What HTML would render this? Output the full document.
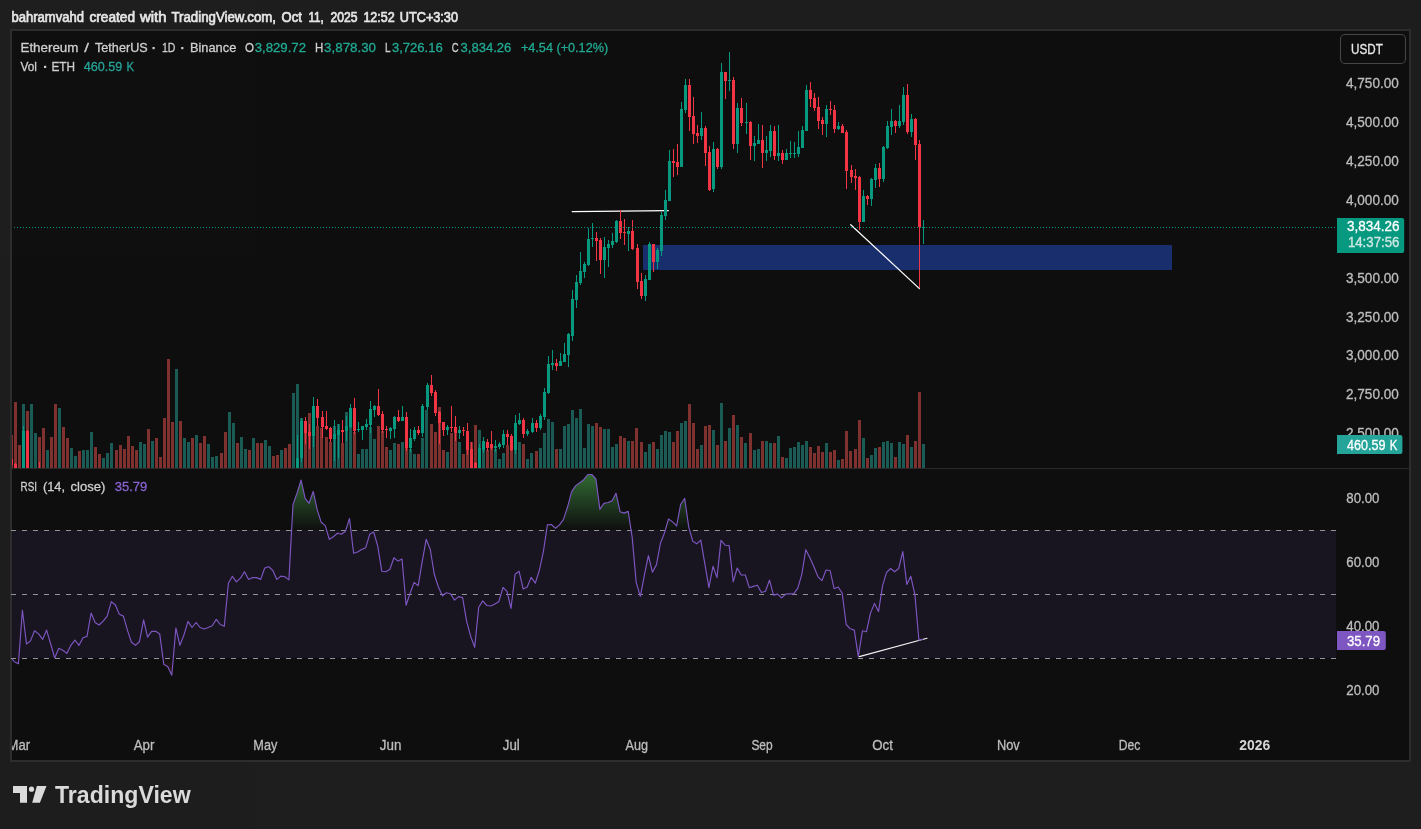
<!DOCTYPE html>
<html><head><meta charset="utf-8"><title>ETHUSDT chart</title>
<style>html,body{margin:0;padding:0;background:#1e1e1e;width:1421px;height:829px;overflow:hidden;font-family:"Liberation Sans",sans-serif}</style>
</head><body>
<svg width="1421" height="829" viewBox="0 0 1421 829" style="position:absolute;left:0;top:0;will-change:transform;opacity:0.999">
<defs>
<clipPath id="cm"><rect x="12" y="31" width="1324" height="437"/></clipPath>
<clipPath id="cr"><rect x="12" y="469" width="1324" height="260"/></clipPath>
<linearGradient id="gg" gradientUnits="userSpaceOnUse" x1="0" y1="470" x2="0" y2="530.5"><stop offset="0" stop-color="#4caf50" stop-opacity="0.62"/><stop offset="1" stop-color="#4caf50" stop-opacity="0.0"/></linearGradient>
<linearGradient id="gr" gradientUnits="userSpaceOnUse" x1="0" y1="658.5" x2="0" y2="720"><stop offset="0" stop-color="#ff5252" stop-opacity="0"/><stop offset="1" stop-color="#ff5252" stop-opacity="0.6"/></linearGradient>
</defs>
<rect x="0" y="0" width="1421" height="829" fill="#1e1e1e"/>
<rect x="10" y="29" width="1401" height="733" fill="#2e2e2e"/>
<rect x="12" y="31" width="1397" height="729" fill="#0f0f0f"/>
<rect x="12" y="468" width="1397" height="1" fill="#2a2a2a"/>
<g clip-path="url(#cm)" shape-rendering="crispEdges">
<rect x="10" y="435.0" width="3" height="33.0" fill="#803230"/>
<rect x="14" y="402.0" width="3" height="66.0" fill="#803230"/>
<rect x="18" y="445.0" width="3" height="23.0" fill="#803230"/>
<rect x="22" y="404.0" width="3" height="64.0" fill="#1b5c57"/>
<rect x="26" y="411.0" width="3" height="57.0" fill="#803230"/>
<rect x="30" y="404.0" width="3" height="64.0" fill="#1b5c57"/>
<rect x="34" y="433.0" width="3" height="35.0" fill="#1b5c57"/>
<rect x="38" y="437.0" width="3" height="31.0" fill="#803230"/>
<rect x="42" y="428.0" width="3" height="40.0" fill="#803230"/>
<rect x="46" y="450.0" width="3" height="18.0" fill="#1b5c57"/>
<rect x="50" y="437.0" width="3" height="31.0" fill="#803230"/>
<rect x="54" y="404.0" width="3" height="64.0" fill="#803230"/>
<rect x="58" y="408.0" width="3" height="60.0" fill="#1b5c57"/>
<rect x="62" y="427.0" width="3" height="41.0" fill="#803230"/>
<rect x="66" y="438.0" width="3" height="30.0" fill="#803230"/>
<rect x="70" y="448.0" width="3" height="20.0" fill="#1b5c57"/>
<rect x="74" y="456.0" width="3" height="12.0" fill="#1b5c57"/>
<rect x="78" y="451.0" width="3" height="17.0" fill="#803230"/>
<rect x="82" y="450.0" width="3" height="18.0" fill="#1b5c57"/>
<rect x="86" y="450.0" width="3" height="18.0" fill="#1b5c57"/>
<rect x="90" y="432.0" width="3" height="36.0" fill="#1b5c57"/>
<rect x="94" y="447.0" width="3" height="21.0" fill="#803230"/>
<rect x="98" y="454.0" width="3" height="14.0" fill="#803230"/>
<rect x="102" y="458.0" width="3" height="10.0" fill="#1b5c57"/>
<rect x="106" y="453.0" width="3" height="15.0" fill="#1b5c57"/>
<rect x="110" y="443.0" width="3" height="25.0" fill="#1b5c57"/>
<rect x="115" y="450.0" width="3" height="18.0" fill="#803230"/>
<rect x="119" y="445.0" width="3" height="23.0" fill="#803230"/>
<rect x="123" y="449.0" width="3" height="19.0" fill="#803230"/>
<rect x="127" y="436.0" width="3" height="32.0" fill="#803230"/>
<rect x="131" y="446.0" width="3" height="22.0" fill="#803230"/>
<rect x="135" y="450.0" width="3" height="18.0" fill="#803230"/>
<rect x="139" y="442.0" width="3" height="26.0" fill="#1b5c57"/>
<rect x="143" y="444.0" width="3" height="24.0" fill="#1b5c57"/>
<rect x="147" y="429.0" width="3" height="39.0" fill="#803230"/>
<rect x="151" y="441.0" width="3" height="27.0" fill="#1b5c57"/>
<rect x="155" y="438.0" width="3" height="30.0" fill="#803230"/>
<rect x="159" y="457.0" width="3" height="11.0" fill="#803230"/>
<rect x="163" y="418.0" width="3" height="50.0" fill="#803230"/>
<rect x="167" y="359.0" width="3" height="109.0" fill="#803230"/>
<rect x="171" y="422.0" width="3" height="46.0" fill="#803230"/>
<rect x="175" y="369.0" width="3" height="99.0" fill="#1b5c57"/>
<rect x="179" y="421.0" width="3" height="47.0" fill="#803230"/>
<rect x="183" y="438.0" width="3" height="30.0" fill="#1b5c57"/>
<rect x="187" y="442.0" width="3" height="26.0" fill="#1b5c57"/>
<rect x="191" y="438.0" width="3" height="30.0" fill="#803230"/>
<rect x="195" y="435.0" width="3" height="33.0" fill="#1b5c57"/>
<rect x="199" y="443.0" width="3" height="25.0" fill="#803230"/>
<rect x="203" y="436.0" width="3" height="32.0" fill="#803230"/>
<rect x="207" y="444.0" width="3" height="24.0" fill="#1b5c57"/>
<rect x="211" y="457.0" width="3" height="11.0" fill="#1b5c57"/>
<rect x="215" y="456.0" width="3" height="12.0" fill="#1b5c57"/>
<rect x="220" y="453.0" width="3" height="15.0" fill="#803230"/>
<rect x="224" y="432.0" width="3" height="36.0" fill="#803230"/>
<rect x="228" y="412.0" width="3" height="56.0" fill="#1b5c57"/>
<rect x="232" y="423.0" width="3" height="45.0" fill="#1b5c57"/>
<rect x="236" y="443.0" width="3" height="25.0" fill="#803230"/>
<rect x="240" y="437.0" width="3" height="31.0" fill="#1b5c57"/>
<rect x="244" y="449.0" width="3" height="19.0" fill="#1b5c57"/>
<rect x="248" y="450.0" width="3" height="18.0" fill="#803230"/>
<rect x="252" y="438.0" width="3" height="30.0" fill="#1b5c57"/>
<rect x="256" y="443.0" width="3" height="25.0" fill="#803230"/>
<rect x="260" y="443.0" width="3" height="25.0" fill="#803230"/>
<rect x="264" y="440.0" width="3" height="28.0" fill="#1b5c57"/>
<rect x="268" y="446.0" width="3" height="22.0" fill="#1b5c57"/>
<rect x="272" y="456.0" width="3" height="12.0" fill="#803230"/>
<rect x="276" y="455.0" width="3" height="13.0" fill="#803230"/>
<rect x="280" y="450.0" width="3" height="18.0" fill="#1b5c57"/>
<rect x="284" y="448.0" width="3" height="20.0" fill="#803230"/>
<rect x="288" y="444.0" width="3" height="24.0" fill="#803230"/>
<rect x="292" y="393.0" width="3" height="75.0" fill="#1b5c57"/>
<rect x="296" y="384.0" width="3" height="84.0" fill="#1b5c57"/>
<rect x="300" y="418.0" width="3" height="50.0" fill="#1b5c57"/>
<rect x="304" y="421.0" width="3" height="47.0" fill="#803230"/>
<rect x="308" y="413.0" width="3" height="55.0" fill="#803230"/>
<rect x="312" y="406.0" width="3" height="62.0" fill="#1b5c57"/>
<rect x="316" y="425.5" width="3" height="42.5" fill="#803230"/>
<rect x="320" y="428.0" width="3" height="40.0" fill="#803230"/>
<rect x="325" y="437.0" width="3" height="31.0" fill="#803230"/>
<rect x="329" y="442.0" width="3" height="26.0" fill="#803230"/>
<rect x="333" y="426.0" width="3" height="42.0" fill="#1b5c57"/>
<rect x="337" y="424.0" width="3" height="44.0" fill="#1b5c57"/>
<rect x="341" y="443.0" width="3" height="25.0" fill="#803230"/>
<rect x="345" y="412.0" width="3" height="56.0" fill="#1b5c57"/>
<rect x="349" y="427.0" width="3" height="41.0" fill="#1b5c57"/>
<rect x="353" y="432.0" width="3" height="36.0" fill="#803230"/>
<rect x="357" y="454.0" width="3" height="14.0" fill="#1b5c57"/>
<rect x="361" y="449.0" width="3" height="19.0" fill="#1b5c57"/>
<rect x="365" y="449.0" width="3" height="19.0" fill="#1b5c57"/>
<rect x="369" y="427.0" width="3" height="41.0" fill="#1b5c57"/>
<rect x="373" y="439.0" width="3" height="29.0" fill="#1b5c57"/>
<rect x="377" y="426.0" width="3" height="42.0" fill="#803230"/>
<rect x="381" y="431.0" width="3" height="37.0" fill="#803230"/>
<rect x="385" y="447.0" width="3" height="21.0" fill="#803230"/>
<rect x="389" y="450.0" width="3" height="18.0" fill="#1b5c57"/>
<rect x="393" y="443.0" width="3" height="25.0" fill="#1b5c57"/>
<rect x="397" y="444.0" width="3" height="24.0" fill="#803230"/>
<rect x="401" y="442.0" width="3" height="26.0" fill="#1b5c57"/>
<rect x="405" y="448.0" width="3" height="20.0" fill="#803230"/>
<rect x="409" y="449.0" width="3" height="19.0" fill="#1b5c57"/>
<rect x="413" y="454.0" width="3" height="14.0" fill="#1b5c57"/>
<rect x="417" y="454.0" width="3" height="14.0" fill="#803230"/>
<rect x="421" y="438.0" width="3" height="30.0" fill="#1b5c57"/>
<rect x="425" y="410.0" width="3" height="58.0" fill="#1b5c57"/>
<rect x="430" y="424.0" width="3" height="44.0" fill="#803230"/>
<rect x="434" y="432.0" width="3" height="36.0" fill="#803230"/>
<rect x="438" y="407.0" width="3" height="61.0" fill="#803230"/>
<rect x="442" y="450.0" width="3" height="18.0" fill="#803230"/>
<rect x="446" y="452.0" width="3" height="16.0" fill="#1b5c57"/>
<rect x="450" y="433.0" width="3" height="35.0" fill="#803230"/>
<rect x="454" y="432.0" width="3" height="36.0" fill="#803230"/>
<rect x="458" y="442.0" width="3" height="26.0" fill="#1b5c57"/>
<rect x="462" y="454.0" width="3" height="14.0" fill="#803230"/>
<rect x="466" y="450.0" width="3" height="18.0" fill="#803230"/>
<rect x="470" y="442.0" width="3" height="26.0" fill="#803230"/>
<rect x="474" y="425.0" width="3" height="43.0" fill="#803230"/>
<rect x="478" y="430.0" width="3" height="38.0" fill="#1b5c57"/>
<rect x="482" y="448.0" width="3" height="20.0" fill="#1b5c57"/>
<rect x="486" y="450.0" width="3" height="18.0" fill="#803230"/>
<rect x="490" y="445.0" width="3" height="23.0" fill="#803230"/>
<rect x="494" y="449.0" width="3" height="19.0" fill="#1b5c57"/>
<rect x="498" y="459.0" width="3" height="9.0" fill="#1b5c57"/>
<rect x="502" y="453.0" width="3" height="15.0" fill="#1b5c57"/>
<rect x="506" y="445.0" width="3" height="23.0" fill="#803230"/>
<rect x="510" y="448.0" width="3" height="20.0" fill="#803230"/>
<rect x="514" y="445.0" width="3" height="23.0" fill="#1b5c57"/>
<rect x="518" y="442.0" width="3" height="26.0" fill="#1b5c57"/>
<rect x="522" y="444.0" width="3" height="24.0" fill="#803230"/>
<rect x="526" y="459.0" width="3" height="9.0" fill="#1b5c57"/>
<rect x="530" y="453.0" width="3" height="15.0" fill="#1b5c57"/>
<rect x="535" y="451.0" width="3" height="17.0" fill="#803230"/>
<rect x="539" y="448.0" width="3" height="20.0" fill="#1b5c57"/>
<rect x="543" y="433.0" width="3" height="35.0" fill="#1b5c57"/>
<rect x="547" y="419.0" width="3" height="49.0" fill="#1b5c57"/>
<rect x="551" y="422.0" width="3" height="46.0" fill="#1b5c57"/>
<rect x="555" y="449.0" width="3" height="19.0" fill="#803230"/>
<rect x="559" y="449.0" width="3" height="19.0" fill="#1b5c57"/>
<rect x="563" y="426.0" width="3" height="42.0" fill="#1b5c57"/>
<rect x="567" y="424.0" width="3" height="44.0" fill="#1b5c57"/>
<rect x="571" y="410.0" width="3" height="58.0" fill="#1b5c57"/>
<rect x="575" y="418.0" width="3" height="50.0" fill="#1b5c57"/>
<rect x="579" y="409.0" width="3" height="59.0" fill="#1b5c57"/>
<rect x="583" y="448.0" width="3" height="20.0" fill="#1b5c57"/>
<rect x="587" y="424.0" width="3" height="44.0" fill="#1b5c57"/>
<rect x="591" y="426.0" width="3" height="42.0" fill="#1b5c57"/>
<rect x="595" y="423.0" width="3" height="45.0" fill="#803230"/>
<rect x="599" y="427.0" width="3" height="41.0" fill="#803230"/>
<rect x="603" y="429.0" width="3" height="39.0" fill="#1b5c57"/>
<rect x="607" y="429.0" width="3" height="39.0" fill="#1b5c57"/>
<rect x="611" y="447.0" width="3" height="21.0" fill="#1b5c57"/>
<rect x="615" y="444.0" width="3" height="24.0" fill="#1b5c57"/>
<rect x="619" y="436.0" width="3" height="32.0" fill="#803230"/>
<rect x="623" y="438.0" width="3" height="30.0" fill="#803230"/>
<rect x="627" y="441.0" width="3" height="27.0" fill="#1b5c57"/>
<rect x="631" y="441.0" width="3" height="27.0" fill="#803230"/>
<rect x="635" y="428.0" width="3" height="40.0" fill="#803230"/>
<rect x="640" y="442.0" width="3" height="26.0" fill="#803230"/>
<rect x="644" y="452.0" width="3" height="16.0" fill="#1b5c57"/>
<rect x="648" y="444.0" width="3" height="24.0" fill="#1b5c57"/>
<rect x="652" y="442.0" width="3" height="26.0" fill="#803230"/>
<rect x="656" y="449.0" width="3" height="19.0" fill="#1b5c57"/>
<rect x="660" y="435.0" width="3" height="33.0" fill="#1b5c57"/>
<rect x="664" y="431.0" width="3" height="37.0" fill="#1b5c57"/>
<rect x="668" y="432.0" width="3" height="36.0" fill="#1b5c57"/>
<rect x="672" y="442.0" width="3" height="26.0" fill="#803230"/>
<rect x="676" y="431.0" width="3" height="37.0" fill="#803230"/>
<rect x="680" y="423.0" width="3" height="45.0" fill="#1b5c57"/>
<rect x="684" y="421.0" width="3" height="47.0" fill="#1b5c57"/>
<rect x="688" y="404.0" width="3" height="64.0" fill="#803230"/>
<rect x="692" y="423.0" width="3" height="45.0" fill="#803230"/>
<rect x="696" y="449.0" width="3" height="19.0" fill="#803230"/>
<rect x="700" y="445.0" width="3" height="23.0" fill="#1b5c57"/>
<rect x="704" y="426.0" width="3" height="42.0" fill="#803230"/>
<rect x="708" y="425.0" width="3" height="43.0" fill="#803230"/>
<rect x="712" y="430.0" width="3" height="38.0" fill="#1b5c57"/>
<rect x="716" y="445.0" width="3" height="23.0" fill="#803230"/>
<rect x="720" y="403.0" width="3" height="65.0" fill="#1b5c57"/>
<rect x="724" y="441.0" width="3" height="27.0" fill="#803230"/>
<rect x="728" y="428.0" width="3" height="40.0" fill="#1b5c57"/>
<rect x="732" y="415.0" width="3" height="53.0" fill="#803230"/>
<rect x="736" y="425.0" width="3" height="43.0" fill="#1b5c57"/>
<rect x="740" y="437.0" width="3" height="31.0" fill="#803230"/>
<rect x="744" y="443.0" width="3" height="25.0" fill="#1b5c57"/>
<rect x="749" y="433.0" width="3" height="35.0" fill="#803230"/>
<rect x="753" y="450.0" width="3" height="18.0" fill="#1b5c57"/>
<rect x="757" y="449.0" width="3" height="19.0" fill="#1b5c57"/>
<rect x="761" y="441.0" width="3" height="27.0" fill="#803230"/>
<rect x="765" y="441.0" width="3" height="27.0" fill="#1b5c57"/>
<rect x="769" y="443.0" width="3" height="25.0" fill="#1b5c57"/>
<rect x="773" y="443.0" width="3" height="25.0" fill="#803230"/>
<rect x="777" y="436.0" width="3" height="32.0" fill="#1b5c57"/>
<rect x="781" y="457.0" width="3" height="11.0" fill="#803230"/>
<rect x="785" y="458.0" width="3" height="10.0" fill="#1b5c57"/>
<rect x="789" y="448.0" width="3" height="20.0" fill="#1b5c57"/>
<rect x="793" y="447.0" width="3" height="21.0" fill="#1b5c57"/>
<rect x="797" y="442.0" width="3" height="26.0" fill="#1b5c57"/>
<rect x="801" y="445.0" width="3" height="23.0" fill="#1b5c57"/>
<rect x="805" y="441.0" width="3" height="27.0" fill="#1b5c57"/>
<rect x="809" y="447.0" width="3" height="21.0" fill="#803230"/>
<rect x="813" y="453.0" width="3" height="15.0" fill="#803230"/>
<rect x="817" y="446.0" width="3" height="22.0" fill="#803230"/>
<rect x="821" y="452.0" width="3" height="16.0" fill="#803230"/>
<rect x="825" y="443.0" width="3" height="25.0" fill="#1b5c57"/>
<rect x="829" y="452.0" width="3" height="16.0" fill="#803230"/>
<rect x="833" y="450.0" width="3" height="18.0" fill="#803230"/>
<rect x="837" y="460.0" width="3" height="8.0" fill="#1b5c57"/>
<rect x="841" y="459.0" width="3" height="9.0" fill="#803230"/>
<rect x="845" y="431.0" width="3" height="37.0" fill="#803230"/>
<rect x="849" y="451.0" width="3" height="17.0" fill="#803230"/>
<rect x="854" y="449.0" width="3" height="19.0" fill="#803230"/>
<rect x="858" y="420.0" width="3" height="48.0" fill="#803230"/>
<rect x="862" y="438.0" width="3" height="30.0" fill="#1b5c57"/>
<rect x="866" y="458.0" width="3" height="10.0" fill="#803230"/>
<rect x="870" y="455.0" width="3" height="13.0" fill="#1b5c57"/>
<rect x="874" y="448.0" width="3" height="20.0" fill="#1b5c57"/>
<rect x="878" y="447.0" width="3" height="21.0" fill="#803230"/>
<rect x="882" y="442.0" width="3" height="26.0" fill="#1b5c57"/>
<rect x="886" y="441.0" width="3" height="27.0" fill="#1b5c57"/>
<rect x="890" y="443.0" width="3" height="25.0" fill="#1b5c57"/>
<rect x="894" y="457.0" width="3" height="11.0" fill="#803230"/>
<rect x="898" y="442.0" width="3" height="26.0" fill="#1b5c57"/>
<rect x="902" y="444.0" width="3" height="24.0" fill="#1b5c57"/>
<rect x="906" y="435.0" width="3" height="33.0" fill="#803230"/>
<rect x="910" y="447.0" width="3" height="21.0" fill="#1b5c57"/>
<rect x="914" y="441.0" width="3" height="27.0" fill="#803230"/>
<rect x="918" y="392.0" width="3" height="76.0" fill="#803230"/>
<rect x="922" y="444.0" width="3" height="24.0" fill="#1b5c57"/>
</g>
<rect x="643" y="245" width="529" height="25" fill="#1a2f6e"/>
<line x1="572.2" y1="211.6" x2="668.3" y2="210.6" stroke="#ffffff" stroke-width="1.25" stroke-linecap="round"/>
<line x1="850.7" y1="224.7" x2="919.4" y2="288.6" stroke="#ffffff" stroke-width="1.25" stroke-linecap="round"/>
<g clip-path="url(#cm)" shape-rendering="crispEdges">
<rect x="11" y="452" width="1" height="16" fill="#f23645"/>
<rect x="10" y="459" width="3" height="6" fill="#f23645"/>
<rect x="15" y="463" width="1" height="5" fill="#f23645"/>
<rect x="14" y="464" width="3" height="4" fill="#f23645"/>
<rect x="23" y="426" width="1" height="42" fill="#089981"/>
<rect x="22" y="431" width="3" height="37" fill="#089981"/>
<rect x="27" y="430" width="1" height="38" fill="#f23645"/>
<rect x="26" y="431" width="3" height="37" fill="#f23645"/>
<rect x="39" y="462" width="1" height="9" fill="#f23645"/>
<rect x="38" y="470" width="3" height="1" fill="#f23645"/>
<rect x="297" y="435" width="1" height="33" fill="#089981"/>
<rect x="296" y="458" width="3" height="10" fill="#089981"/>
<rect x="301" y="418" width="1" height="44" fill="#089981"/>
<rect x="300" y="421" width="3" height="37" fill="#089981"/>
<rect x="305" y="417" width="1" height="27" fill="#f23645"/>
<rect x="304" y="421" width="3" height="12" fill="#f23645"/>
<rect x="309" y="424" width="1" height="25" fill="#f23645"/>
<rect x="308" y="432" width="3" height="4" fill="#f23645"/>
<rect x="313" y="397" width="1" height="50" fill="#089981"/>
<rect x="312" y="406" width="3" height="30" fill="#089981"/>
<rect x="317" y="399" width="1" height="27" fill="#f23645"/>
<rect x="316" y="406" width="3" height="12" fill="#f23645"/>
<rect x="322" y="411" width="1" height="27" fill="#f23645"/>
<rect x="321" y="417" width="3" height="10" fill="#f23645"/>
<rect x="326" y="411" width="1" height="19" fill="#f23645"/>
<rect x="325" y="426" width="3" height="3" fill="#f23645"/>
<rect x="330" y="427" width="1" height="15" fill="#f23645"/>
<rect x="329" y="428" width="3" height="11" fill="#f23645"/>
<rect x="334" y="420" width="1" height="41" fill="#089981"/>
<rect x="333" y="434" width="3" height="5" fill="#089981"/>
<rect x="338" y="424" width="1" height="34" fill="#089981"/>
<rect x="337" y="430" width="3" height="5" fill="#089981"/>
<rect x="342" y="420" width="1" height="23" fill="#f23645"/>
<rect x="341" y="430" width="3" height="2" fill="#f23645"/>
<rect x="346" y="416" width="1" height="25" fill="#089981"/>
<rect x="345" y="426" width="3" height="5" fill="#089981"/>
<rect x="350" y="404" width="1" height="24" fill="#089981"/>
<rect x="349" y="408" width="3" height="19" fill="#089981"/>
<rect x="354" y="398" width="1" height="36" fill="#f23645"/>
<rect x="353" y="408" width="3" height="23" fill="#f23645"/>
<rect x="358" y="422" width="1" height="10" fill="#089981"/>
<rect x="357" y="429" width="3" height="1" fill="#089981"/>
<rect x="362" y="426" width="1" height="14" fill="#089981"/>
<rect x="361" y="426" width="3" height="4" fill="#089981"/>
<rect x="366" y="419" width="1" height="11" fill="#089981"/>
<rect x="365" y="424" width="3" height="3" fill="#089981"/>
<rect x="370" y="401" width="1" height="32" fill="#089981"/>
<rect x="369" y="409" width="3" height="16" fill="#089981"/>
<rect x="374" y="405" width="1" height="12" fill="#089981"/>
<rect x="373" y="406" width="3" height="4" fill="#089981"/>
<rect x="378" y="389" width="1" height="27" fill="#f23645"/>
<rect x="377" y="406" width="3" height="9" fill="#f23645"/>
<rect x="382" y="411" width="1" height="22" fill="#f23645"/>
<rect x="381" y="414" width="3" height="16" fill="#f23645"/>
<rect x="386" y="426" width="1" height="12" fill="#f23645"/>
<rect x="385" y="429" width="3" height="1" fill="#f23645"/>
<rect x="390" y="427" width="1" height="12" fill="#089981"/>
<rect x="389" y="428" width="3" height="3" fill="#089981"/>
<rect x="394" y="416" width="1" height="22" fill="#089981"/>
<rect x="393" y="417" width="3" height="12" fill="#089981"/>
<rect x="398" y="410" width="1" height="12" fill="#f23645"/>
<rect x="397" y="417" width="3" height="4" fill="#f23645"/>
<rect x="402" y="406" width="1" height="15" fill="#089981"/>
<rect x="401" y="417" width="3" height="4" fill="#089981"/>
<rect x="406" y="412" width="1" height="39" fill="#f23645"/>
<rect x="405" y="417" width="3" height="31" fill="#f23645"/>
<rect x="410" y="429" width="1" height="23" fill="#089981"/>
<rect x="409" y="438" width="3" height="10" fill="#089981"/>
<rect x="414" y="427" width="1" height="14" fill="#089981"/>
<rect x="413" y="430" width="3" height="9" fill="#089981"/>
<rect x="418" y="426" width="1" height="9" fill="#f23645"/>
<rect x="417" y="430" width="3" height="3" fill="#f23645"/>
<rect x="422" y="404" width="1" height="33" fill="#089981"/>
<rect x="421" y="406" width="3" height="27" fill="#089981"/>
<rect x="427" y="383" width="1" height="27" fill="#089981"/>
<rect x="426" y="385" width="3" height="22" fill="#089981"/>
<rect x="431" y="375" width="1" height="21" fill="#f23645"/>
<rect x="430" y="385" width="3" height="8" fill="#f23645"/>
<rect x="435" y="390" width="1" height="26" fill="#f23645"/>
<rect x="434" y="392" width="3" height="21" fill="#f23645"/>
<rect x="439" y="411" width="1" height="33" fill="#f23645"/>
<rect x="438" y="412" width="3" height="11" fill="#f23645"/>
<rect x="443" y="422" width="1" height="14" fill="#f23645"/>
<rect x="442" y="422" width="3" height="8" fill="#f23645"/>
<rect x="447" y="425" width="1" height="10" fill="#089981"/>
<rect x="446" y="427" width="3" height="3" fill="#089981"/>
<rect x="451" y="406" width="1" height="26" fill="#f23645"/>
<rect x="450" y="427" width="3" height="1" fill="#f23645"/>
<rect x="455" y="416" width="1" height="25" fill="#f23645"/>
<rect x="454" y="427" width="3" height="6" fill="#f23645"/>
<rect x="459" y="426" width="1" height="13" fill="#089981"/>
<rect x="458" y="430" width="3" height="3" fill="#089981"/>
<rect x="463" y="427" width="1" height="9" fill="#f23645"/>
<rect x="462" y="430" width="3" height="1" fill="#f23645"/>
<rect x="467" y="423" width="1" height="32" fill="#f23645"/>
<rect x="466" y="431" width="3" height="19" fill="#f23645"/>
<rect x="471" y="442" width="1" height="26" fill="#f23645"/>
<rect x="470" y="449" width="3" height="19" fill="#f23645"/>
<rect x="475" y="462" width="1" height="6" fill="#f23645"/>
<rect x="474" y="463" width="3" height="5" fill="#f23645"/>
<rect x="479" y="444" width="1" height="24" fill="#089981"/>
<rect x="478" y="448" width="3" height="20" fill="#089981"/>
<rect x="483" y="437" width="1" height="16" fill="#089981"/>
<rect x="482" y="441" width="3" height="9" fill="#089981"/>
<rect x="487" y="439" width="1" height="12" fill="#f23645"/>
<rect x="486" y="442" width="3" height="6" fill="#f23645"/>
<rect x="491" y="431" width="1" height="19" fill="#f23645"/>
<rect x="490" y="444" width="3" height="4" fill="#f23645"/>
<rect x="495" y="440" width="1" height="12" fill="#089981"/>
<rect x="494" y="446" width="3" height="2" fill="#089981"/>
<rect x="499" y="442" width="1" height="7" fill="#089981"/>
<rect x="498" y="444" width="3" height="3" fill="#089981"/>
<rect x="503" y="430" width="1" height="18" fill="#089981"/>
<rect x="502" y="434" width="3" height="11" fill="#089981"/>
<rect x="507" y="430" width="1" height="15" fill="#f23645"/>
<rect x="506" y="434" width="3" height="3" fill="#f23645"/>
<rect x="511" y="434" width="1" height="17" fill="#f23645"/>
<rect x="510" y="436" width="3" height="14" fill="#f23645"/>
<rect x="515" y="415" width="1" height="39" fill="#089981"/>
<rect x="514" y="423" width="3" height="27" fill="#089981"/>
<rect x="519" y="413" width="1" height="12" fill="#089981"/>
<rect x="518" y="420" width="3" height="4" fill="#089981"/>
<rect x="523" y="418" width="1" height="20" fill="#f23645"/>
<rect x="522" y="420" width="3" height="14" fill="#f23645"/>
<rect x="527" y="429" width="1" height="7" fill="#089981"/>
<rect x="526" y="431" width="3" height="3" fill="#089981"/>
<rect x="532" y="418" width="1" height="15" fill="#089981"/>
<rect x="531" y="423" width="3" height="9" fill="#089981"/>
<rect x="536" y="420" width="1" height="12" fill="#f23645"/>
<rect x="535" y="423" width="3" height="5" fill="#f23645"/>
<rect x="540" y="414" width="1" height="16" fill="#089981"/>
<rect x="539" y="416" width="3" height="12" fill="#089981"/>
<rect x="544" y="388" width="1" height="32" fill="#089981"/>
<rect x="543" y="392" width="3" height="25" fill="#089981"/>
<rect x="548" y="356" width="1" height="38" fill="#089981"/>
<rect x="547" y="364" width="3" height="29" fill="#089981"/>
<rect x="552" y="350" width="1" height="20" fill="#089981"/>
<rect x="551" y="363" width="3" height="2" fill="#089981"/>
<rect x="556" y="359" width="1" height="12" fill="#f23645"/>
<rect x="555" y="363" width="3" height="3" fill="#f23645"/>
<rect x="560" y="353" width="1" height="13" fill="#089981"/>
<rect x="559" y="361" width="3" height="5" fill="#089981"/>
<rect x="564" y="343" width="1" height="19" fill="#089981"/>
<rect x="563" y="354" width="3" height="8" fill="#089981"/>
<rect x="568" y="333" width="1" height="34" fill="#089981"/>
<rect x="567" y="334" width="3" height="21" fill="#089981"/>
<rect x="572" y="290" width="1" height="51" fill="#089981"/>
<rect x="571" y="299" width="3" height="37" fill="#089981"/>
<rect x="576" y="275" width="1" height="33" fill="#089981"/>
<rect x="575" y="282" width="3" height="18" fill="#089981"/>
<rect x="580" y="252" width="1" height="33" fill="#089981"/>
<rect x="579" y="271" width="3" height="12" fill="#089981"/>
<rect x="584" y="262" width="1" height="16" fill="#089981"/>
<rect x="583" y="264" width="3" height="8" fill="#089981"/>
<rect x="588" y="228" width="1" height="38" fill="#089981"/>
<rect x="587" y="239" width="3" height="26" fill="#089981"/>
<rect x="592" y="223" width="1" height="24" fill="#089981"/>
<rect x="591" y="238" width="3" height="1" fill="#089981"/>
<rect x="596" y="232" width="1" height="29" fill="#f23645"/>
<rect x="595" y="238" width="3" height="3" fill="#f23645"/>
<rect x="600" y="238" width="1" height="36" fill="#f23645"/>
<rect x="599" y="240" width="3" height="20" fill="#f23645"/>
<rect x="604" y="237" width="1" height="41" fill="#089981"/>
<rect x="603" y="247" width="3" height="13" fill="#089981"/>
<rect x="608" y="240" width="1" height="27" fill="#089981"/>
<rect x="607" y="244" width="3" height="4" fill="#089981"/>
<rect x="612" y="233" width="1" height="15" fill="#089981"/>
<rect x="611" y="241" width="3" height="4" fill="#089981"/>
<rect x="616" y="220" width="1" height="23" fill="#089981"/>
<rect x="615" y="221" width="3" height="21" fill="#089981"/>
<rect x="620" y="210" width="1" height="29" fill="#f23645"/>
<rect x="619" y="221" width="3" height="12" fill="#f23645"/>
<rect x="624" y="219" width="1" height="26" fill="#f23645"/>
<rect x="623" y="232" width="3" height="1" fill="#f23645"/>
<rect x="628" y="227" width="1" height="24" fill="#089981"/>
<rect x="627" y="231" width="3" height="3" fill="#089981"/>
<rect x="632" y="220" width="1" height="30" fill="#f23645"/>
<rect x="631" y="231" width="3" height="18" fill="#f23645"/>
<rect x="637" y="244" width="1" height="45" fill="#f23645"/>
<rect x="636" y="248" width="3" height="34" fill="#f23645"/>
<rect x="641" y="273" width="1" height="26" fill="#f23645"/>
<rect x="640" y="281" width="3" height="15" fill="#f23645"/>
<rect x="645" y="275" width="1" height="26" fill="#089981"/>
<rect x="644" y="279" width="3" height="17" fill="#089981"/>
<rect x="649" y="242" width="1" height="38" fill="#089981"/>
<rect x="648" y="244" width="3" height="36" fill="#089981"/>
<rect x="653" y="244" width="1" height="28" fill="#f23645"/>
<rect x="652" y="244" width="3" height="18" fill="#f23645"/>
<rect x="657" y="248" width="1" height="21" fill="#089981"/>
<rect x="656" y="250" width="3" height="12" fill="#089981"/>
<rect x="661" y="212" width="1" height="44" fill="#089981"/>
<rect x="660" y="215" width="3" height="36" fill="#089981"/>
<rect x="665" y="190" width="1" height="30" fill="#089981"/>
<rect x="664" y="200" width="3" height="16" fill="#089981"/>
<rect x="669" y="150" width="1" height="51" fill="#089981"/>
<rect x="668" y="161" width="3" height="40" fill="#089981"/>
<rect x="673" y="149" width="1" height="28" fill="#f23645"/>
<rect x="672" y="161" width="3" height="2" fill="#f23645"/>
<rect x="677" y="144" width="1" height="31" fill="#f23645"/>
<rect x="676" y="162" width="3" height="5" fill="#f23645"/>
<rect x="681" y="102" width="1" height="65" fill="#089981"/>
<rect x="680" y="109" width="3" height="58" fill="#089981"/>
<rect x="685" y="79" width="1" height="34" fill="#089981"/>
<rect x="684" y="85" width="3" height="25" fill="#089981"/>
<rect x="689" y="79" width="1" height="52" fill="#f23645"/>
<rect x="688" y="85" width="3" height="32" fill="#f23645"/>
<rect x="693" y="97" width="1" height="47" fill="#f23645"/>
<rect x="692" y="116" width="3" height="18" fill="#f23645"/>
<rect x="697" y="125" width="1" height="18" fill="#f23645"/>
<rect x="696" y="133" width="3" height="3" fill="#f23645"/>
<rect x="701" y="112" width="1" height="28" fill="#089981"/>
<rect x="700" y="128" width="3" height="8" fill="#089981"/>
<rect x="705" y="126" width="1" height="40" fill="#f23645"/>
<rect x="704" y="128" width="3" height="25" fill="#f23645"/>
<rect x="709" y="146" width="1" height="45" fill="#f23645"/>
<rect x="708" y="152" width="3" height="38" fill="#f23645"/>
<rect x="713" y="142" width="1" height="50" fill="#089981"/>
<rect x="712" y="149" width="3" height="40" fill="#089981"/>
<rect x="717" y="148" width="1" height="21" fill="#f23645"/>
<rect x="716" y="149" width="3" height="18" fill="#f23645"/>
<rect x="721" y="63" width="1" height="106" fill="#089981"/>
<rect x="720" y="72" width="3" height="95" fill="#089981"/>
<rect x="725" y="72" width="1" height="27" fill="#f23645"/>
<rect x="724" y="72" width="3" height="9" fill="#f23645"/>
<rect x="729" y="52" width="1" height="39" fill="#089981"/>
<rect x="728" y="80" width="3" height="1" fill="#089981"/>
<rect x="733" y="77" width="1" height="72" fill="#f23645"/>
<rect x="732" y="80" width="3" height="64" fill="#f23645"/>
<rect x="737" y="103" width="1" height="50" fill="#089981"/>
<rect x="736" y="108" width="3" height="36" fill="#089981"/>
<rect x="741" y="98" width="1" height="28" fill="#f23645"/>
<rect x="740" y="108" width="3" height="15" fill="#f23645"/>
<rect x="746" y="103" width="1" height="31" fill="#089981"/>
<rect x="745" y="122" width="3" height="1" fill="#089981"/>
<rect x="750" y="121" width="1" height="39" fill="#f23645"/>
<rect x="749" y="122" width="3" height="24" fill="#f23645"/>
<rect x="754" y="136" width="1" height="25" fill="#089981"/>
<rect x="753" y="143" width="3" height="3" fill="#089981"/>
<rect x="758" y="124" width="1" height="20" fill="#089981"/>
<rect x="757" y="140" width="3" height="4" fill="#089981"/>
<rect x="762" y="125" width="1" height="43" fill="#f23645"/>
<rect x="761" y="140" width="3" height="13" fill="#f23645"/>
<rect x="766" y="136" width="1" height="25" fill="#089981"/>
<rect x="765" y="150" width="3" height="3" fill="#089981"/>
<rect x="770" y="125" width="1" height="32" fill="#089981"/>
<rect x="769" y="131" width="3" height="20" fill="#089981"/>
<rect x="774" y="126" width="1" height="34" fill="#f23645"/>
<rect x="773" y="131" width="3" height="25" fill="#f23645"/>
<rect x="778" y="125" width="1" height="36" fill="#089981"/>
<rect x="777" y="153" width="3" height="3" fill="#089981"/>
<rect x="782" y="150" width="1" height="14" fill="#f23645"/>
<rect x="781" y="153" width="3" height="7" fill="#f23645"/>
<rect x="786" y="149" width="1" height="11" fill="#089981"/>
<rect x="785" y="153" width="3" height="7" fill="#089981"/>
<rect x="790" y="141" width="1" height="17" fill="#089981"/>
<rect x="789" y="153" width="3" height="1" fill="#089981"/>
<rect x="794" y="142" width="1" height="16" fill="#089981"/>
<rect x="793" y="153" width="3" height="1" fill="#089981"/>
<rect x="798" y="131" width="1" height="26" fill="#089981"/>
<rect x="797" y="147" width="3" height="7" fill="#089981"/>
<rect x="802" y="126" width="1" height="22" fill="#089981"/>
<rect x="801" y="130" width="3" height="18" fill="#089981"/>
<rect x="806" y="85" width="1" height="46" fill="#089981"/>
<rect x="805" y="90" width="3" height="41" fill="#089981"/>
<rect x="810" y="82" width="1" height="25" fill="#f23645"/>
<rect x="809" y="90" width="3" height="9" fill="#f23645"/>
<rect x="814" y="93" width="1" height="18" fill="#f23645"/>
<rect x="813" y="98" width="3" height="10" fill="#f23645"/>
<rect x="818" y="97" width="1" height="32" fill="#f23645"/>
<rect x="817" y="107" width="3" height="14" fill="#f23645"/>
<rect x="822" y="117" width="1" height="18" fill="#f23645"/>
<rect x="821" y="120" width="3" height="4" fill="#f23645"/>
<rect x="826" y="105" width="1" height="32" fill="#089981"/>
<rect x="825" y="109" width="3" height="15" fill="#089981"/>
<rect x="830" y="101" width="1" height="14" fill="#f23645"/>
<rect x="829" y="109" width="3" height="1" fill="#f23645"/>
<rect x="834" y="105" width="1" height="28" fill="#f23645"/>
<rect x="833" y="110" width="3" height="19" fill="#f23645"/>
<rect x="838" y="122" width="1" height="8" fill="#089981"/>
<rect x="837" y="126" width="3" height="3" fill="#089981"/>
<rect x="842" y="124" width="1" height="9" fill="#f23645"/>
<rect x="841" y="126" width="3" height="7" fill="#f23645"/>
<rect x="846" y="130" width="1" height="59" fill="#f23645"/>
<rect x="845" y="132" width="3" height="39" fill="#f23645"/>
<rect x="851" y="165" width="1" height="18" fill="#f23645"/>
<rect x="850" y="170" width="3" height="7" fill="#f23645"/>
<rect x="855" y="169" width="1" height="21" fill="#f23645"/>
<rect x="854" y="176" width="3" height="2" fill="#f23645"/>
<rect x="859" y="176" width="1" height="54" fill="#f23645"/>
<rect x="858" y="177" width="3" height="45" fill="#f23645"/>
<rect x="863" y="190" width="1" height="32" fill="#089981"/>
<rect x="862" y="196" width="3" height="26" fill="#089981"/>
<rect x="867" y="195" width="1" height="10" fill="#f23645"/>
<rect x="866" y="196" width="3" height="3" fill="#f23645"/>
<rect x="871" y="178" width="1" height="28" fill="#089981"/>
<rect x="870" y="179" width="3" height="20" fill="#089981"/>
<rect x="875" y="164" width="1" height="24" fill="#089981"/>
<rect x="874" y="168" width="3" height="12" fill="#089981"/>
<rect x="879" y="163" width="1" height="24" fill="#f23645"/>
<rect x="878" y="168" width="3" height="11" fill="#f23645"/>
<rect x="883" y="146" width="1" height="36" fill="#089981"/>
<rect x="882" y="147" width="3" height="32" fill="#089981"/>
<rect x="887" y="121" width="1" height="28" fill="#089981"/>
<rect x="886" y="126" width="3" height="22" fill="#089981"/>
<rect x="891" y="109" width="1" height="26" fill="#089981"/>
<rect x="890" y="121" width="3" height="6" fill="#089981"/>
<rect x="895" y="120" width="1" height="13" fill="#f23645"/>
<rect x="894" y="121" width="3" height="5" fill="#f23645"/>
<rect x="899" y="105" width="1" height="23" fill="#089981"/>
<rect x="898" y="121" width="3" height="5" fill="#089981"/>
<rect x="903" y="87" width="1" height="38" fill="#089981"/>
<rect x="902" y="95" width="3" height="27" fill="#089981"/>
<rect x="907" y="84" width="1" height="50" fill="#f23645"/>
<rect x="906" y="95" width="3" height="37" fill="#f23645"/>
<rect x="911" y="114" width="1" height="23" fill="#089981"/>
<rect x="910" y="119" width="3" height="13" fill="#089981"/>
<rect x="915" y="118" width="1" height="42" fill="#f23645"/>
<rect x="914" y="119" width="3" height="26" fill="#f23645"/>
<rect x="919" y="140" width="1" height="148" fill="#f23645"/>
<rect x="918" y="144" width="3" height="83" fill="#f23645"/>
<rect x="923" y="220" width="1" height="24" fill="#089981"/>
<rect x="922" y="227" width="3" height="1" fill="#089981"/>
</g>
<line x1="14" y1="227.5" x2="1336" y2="227.5" stroke="#089981" stroke-width="1" stroke-dasharray="1 2" shape-rendering="crispEdges"/>
<rect x="12" y="530" width="1324" height="128" fill="#7e57c2" fill-opacity="0.1"/>
<line x1="11" y1="530.5" x2="1336" y2="530.5" stroke="#94959b" stroke-width="1" stroke-dasharray="5 6" shape-rendering="crispEdges"/>
<line x1="11" y1="594.5" x2="1336" y2="594.5" stroke="#94959b" stroke-width="1" stroke-dasharray="5 6" shape-rendering="crispEdges"/>
<line x1="11" y1="658.5" x2="1336" y2="658.5" stroke="#94959b" stroke-width="1" stroke-dasharray="5 6" shape-rendering="crispEdges"/>
<g clip-path="url(#cr)">
<path d="M11.8,658.5 L14.3,661.7 L18.4,663.8 L18.8,658.5Z" fill="url(#gr)"/>
<path d="M163.0,658.5 L163.8,664.3 L167.8,666.8 L171.8,675.2 L173.3,658.5Z" fill="url(#gr)"/>
<path d="M291.6,530.5 L293.0,504.6 L297.0,493.2 L301.1,480.0 L305.1,498.3 L309.1,503.3 L313.2,491.4 L317.2,509.7 L321.2,522.3 L325.3,525.6 L326.7,530.5Z" fill="url(#gg)"/>
<path d="M345.7,530.5 L349.5,518.5 L350.9,530.5Z" fill="url(#gg)"/>
<path d="M546.5,530.5 L547.4,524.9 L551.4,524.5 L555.5,528.3 L559.5,524.9 L563.5,519.4 L567.6,506.8 L571.6,491.6 L575.7,485.6 L579.7,482.7 L583.7,479.7 L587.8,474.5 L591.8,474.5 L595.9,478.9 L599.9,509.3 L603.9,503.4 L608.0,502.5 L612.0,500.9 L616.0,493.2 L620.1,511.8 L624.1,513.1 L628.2,511.4 L631.1,530.5Z" fill="url(#gg)"/>
<path d="M665.2,530.5 L668.5,519.0 L672.6,521.9 L676.6,525.8 L680.7,504.2 L684.7,498.3 L688.7,526.9 L689.7,530.5Z" fill="url(#gg)"/>
<line x1="859.3" y1="656.6" x2="927.0" y2="638.3" stroke="#f4f4f4" stroke-width="1.1" stroke-linecap="round"/>
<path d="M10.3,656.7 L14.3,661.7 L18.4,663.8 L22.4,610.3 L26.5,644.0 L30.5,640.9 L34.5,630.8 L38.6,633.9 L42.6,639.4 L46.6,630.1 L50.7,644.0 L54.7,657.9 L58.8,648.3 L62.8,650.3 L66.8,653.4 L70.9,645.3 L74.9,640.2 L79.0,645.3 L83.0,637.7 L87.0,636.4 L91.1,613.1 L95.1,622.5 L99.1,625.0 L103.2,621.2 L107.2,616.1 L111.3,601.7 L115.3,604.7 L119.3,614.3 L123.4,616.1 L127.4,630.1 L131.4,642.2 L135.5,645.3 L139.5,641.5 L143.6,619.9 L147.6,637.1 L151.6,631.3 L155.7,631.3 L159.7,633.9 L163.8,664.3 L167.8,666.8 L171.8,675.2 L175.9,628.0 L179.9,645.3 L183.9,635.1 L188.0,621.4 L192.0,627.5 L196.1,622.5 L200.1,627.5 L204.1,629.0 L208.2,627.5 L212.2,625.7 L216.3,619.4 L220.3,624.5 L224.3,626.3 L228.4,583.2 L232.4,576.3 L236.4,581.9 L240.5,578.1 L244.5,571.8 L248.6,579.4 L252.6,577.6 L256.6,577.6 L260.7,579.4 L264.7,568.0 L268.8,566.7 L272.8,570.5 L276.8,579.4 L280.9,576.1 L284.9,576.8 L288.9,579.9 L293.0,504.6 L297.0,493.2 L301.1,480.0 L305.1,498.3 L309.1,503.3 L313.2,491.4 L317.2,509.7 L321.2,522.3 L325.3,525.6 L329.3,539.3 L333.4,536.8 L337.4,533.2 L341.4,534.3 L345.5,531.2 L349.5,518.5 L353.6,553.3 L357.6,552.0 L361.6,549.5 L365.7,547.7 L369.7,534.3 L373.7,532.0 L377.8,546.4 L381.8,571.3 L385.9,571.8 L389.9,569.2 L393.9,557.8 L398.0,561.1 L402.0,559.1 L406.1,605.2 L410.1,593.3 L414.1,582.4 L418.2,585.7 L422.2,561.6 L426.2,539.3 L430.3,549.5 L434.3,574.3 L438.4,587.0 L442.4,595.8 L446.4,592.8 L450.5,593.8 L454.5,600.1 L458.6,596.6 L462.6,597.6 L466.6,621.2 L470.7,636.4 L474.7,647.3 L478.7,607.2 L482.8,600.9 L486.8,605.5 L490.9,606.0 L494.9,604.0 L498.9,601.4 L503.0,587.5 L507.0,591.3 L511.0,608.5 L515.1,574.3 L519.1,571.3 L523.2,589.0 L527.2,587.0 L531.2,577.3 L535.3,583.2 L539.3,570.5 L543.4,551.5 L547.4,524.9 L551.4,524.5 L555.5,528.3 L559.5,524.9 L563.5,519.4 L567.6,506.8 L571.6,491.6 L575.7,485.6 L579.7,482.7 L583.7,479.7 L587.8,474.5 L591.8,474.5 L595.9,478.9 L599.9,509.3 L603.9,503.4 L608.0,502.5 L612.0,500.9 L616.0,493.2 L620.1,511.8 L624.1,513.1 L628.2,511.4 L632.2,537.6 L636.2,582.4 L640.3,596.3 L644.3,575.6 L648.4,555.6 L652.4,572.2 L656.4,564.9 L660.5,543.0 L664.5,532.9 L668.5,519.0 L672.6,521.9 L676.6,525.8 L680.7,504.2 L684.7,498.3 L688.7,526.9 L692.8,541.3 L696.8,543.8 L700.8,540.1 L704.9,564.1 L708.9,587.7 L713.0,566.3 L717.0,577.6 L721.0,540.4 L725.1,545.2 L729.1,545.5 L733.2,581.8 L737.2,568.0 L741.2,575.0 L745.3,575.0 L749.3,587.7 L753.3,586.4 L757.4,585.2 L761.4,592.5 L765.5,591.3 L769.5,580.1 L773.5,595.1 L777.6,594.1 L781.6,597.9 L785.7,594.1 L789.7,593.8 L793.7,593.8 L797.8,588.2 L801.8,574.3 L805.8,549.7 L809.9,557.8 L813.9,566.7 L818.0,576.8 L822.0,580.6 L826.0,570.0 L830.1,570.5 L834.1,588.7 L838.2,587.0 L842.2,593.3 L846.2,624.5 L850.3,628.8 L854.3,630.1 L858.3,656.7 L862.4,630.8 L866.4,631.8 L870.5,613.1 L874.5,603.4 L878.5,611.6 L882.6,585.7 L886.6,572.3 L890.6,568.5 L894.7,571.8 L898.7,568.5 L902.8,551.5 L906.8,584.4 L910.8,576.3 L914.9,594.6 L918.9,640.2 L923.0,639.2" fill="none" stroke="#7e57c2" stroke-width="1.15" stroke-linejoin="round"/>
</g>
<text x="11.5" y="21.8" font-family="Liberation Sans, sans-serif" font-size="14" fill="#e6e6e6" font-weight="normal" text-anchor="start" textLength="72.5" lengthAdjust="spacingAndGlyphs"  stroke="#e6e6e6" stroke-width="0.7">bahramvahd</text>
<text x="89.5" y="21.8" font-family="Liberation Sans, sans-serif" font-size="14" fill="#e6e6e6" font-weight="normal" text-anchor="start" textLength="45.5" lengthAdjust="spacingAndGlyphs"  stroke="#e6e6e6" stroke-width="0.7">created</text>
<text x="140" y="21.8" font-family="Liberation Sans, sans-serif" font-size="14" fill="#e6e6e6" font-weight="normal" text-anchor="start" textLength="26.4" lengthAdjust="spacingAndGlyphs"  stroke="#e6e6e6" stroke-width="0.7">with</text>
<text x="171.5" y="21.8" font-family="Liberation Sans, sans-serif" font-size="14" fill="#e6e6e6" font-weight="normal" text-anchor="start" textLength="104.5" lengthAdjust="spacingAndGlyphs"  stroke="#e6e6e6" stroke-width="0.7">TradingView.com,</text>
<text x="281.5" y="21.8" font-family="Liberation Sans, sans-serif" font-size="14" fill="#e6e6e6" font-weight="normal" text-anchor="start" textLength="20.3" lengthAdjust="spacingAndGlyphs"  stroke="#e6e6e6" stroke-width="0.7">Oct</text>
<text x="308.5" y="21.8" font-family="Liberation Sans, sans-serif" font-size="14" fill="#e6e6e6" font-weight="normal" text-anchor="start" textLength="15.3" lengthAdjust="spacingAndGlyphs"  stroke="#e6e6e6" stroke-width="0.7">11,</text>
<text x="330.5" y="21.8" font-family="Liberation Sans, sans-serif" font-size="14" fill="#e6e6e6" font-weight="normal" text-anchor="start" textLength="27" lengthAdjust="spacingAndGlyphs"  stroke="#e6e6e6" stroke-width="0.7">2025</text>
<text x="363.4" y="21.8" font-family="Liberation Sans, sans-serif" font-size="14" fill="#e6e6e6" font-weight="normal" text-anchor="start" textLength="31.3" lengthAdjust="spacingAndGlyphs"  stroke="#e6e6e6" stroke-width="0.7">12:52</text>
<text x="399.8" y="21.8" font-family="Liberation Sans, sans-serif" font-size="14" fill="#e6e6e6" font-weight="normal" text-anchor="start" textLength="58.2" lengthAdjust="spacingAndGlyphs"  stroke="#e6e6e6" stroke-width="0.7">UTC+3:30</text>
<text x="20.5" y="52.1" font-family="Liberation Sans, sans-serif" font-size="13.6" fill="#d0d0d0" font-weight="normal" text-anchor="start" textLength="57.9" lengthAdjust="spacingAndGlyphs"  stroke="#d0d0d0" stroke-width="0.3">Ethereum</text>
<text x="84.3" y="52.1" font-family="Liberation Sans, sans-serif" font-size="13.6" fill="#d0d0d0" font-weight="normal" text-anchor="start" textLength="4.7" lengthAdjust="spacingAndGlyphs"  stroke="#d0d0d0" stroke-width="0.3">/</text>
<text x="95" y="52.1" font-family="Liberation Sans, sans-serif" font-size="13.6" fill="#d0d0d0" font-weight="normal" text-anchor="start" textLength="52.7" lengthAdjust="spacingAndGlyphs"  stroke="#d0d0d0" stroke-width="0.3">TetherUS</text>
<text x="162" y="52.1" font-family="Liberation Sans, sans-serif" font-size="13.6" fill="#d0d0d0" font-weight="normal" text-anchor="start" textLength="13.5" lengthAdjust="spacingAndGlyphs"  stroke="#d0d0d0" stroke-width="0.3">1D</text>
<text x="189.9" y="52.1" font-family="Liberation Sans, sans-serif" font-size="13.6" fill="#d0d0d0" font-weight="normal" text-anchor="start" textLength="46.4" lengthAdjust="spacingAndGlyphs"  stroke="#d0d0d0" stroke-width="0.3">Binance</text>
<rect x="152.5" y="47" width="2.2" height="2.2" fill="#d0d0d0"/>
<rect x="181.2" y="47" width="2.2" height="2.2" fill="#d0d0d0"/>
<rect x="44" y="65.8" width="2.2" height="2.2" fill="#d0d0d0"/>
<text x="245.1" y="52.1" font-family="Liberation Sans, sans-serif" font-size="13.6" fill="#d0d0d0" font-weight="normal" text-anchor="start" textLength="9" lengthAdjust="spacingAndGlyphs"  stroke="#d0d0d0" stroke-width="0.3">O</text>
<text x="254.7" y="52.1" font-family="Liberation Sans, sans-serif" font-size="13.6" fill="#22ab94" font-weight="normal" text-anchor="start" textLength="51.3" lengthAdjust="spacingAndGlyphs"  stroke="#22ab94" stroke-width="0.3">3,829.72</text>
<text x="315" y="52.1" font-family="Liberation Sans, sans-serif" font-size="13.6" fill="#d0d0d0" font-weight="normal" text-anchor="start" textLength="8.3" lengthAdjust="spacingAndGlyphs"  stroke="#d0d0d0" stroke-width="0.3">H</text>
<text x="324.1" y="52.1" font-family="Liberation Sans, sans-serif" font-size="13.6" fill="#22ab94" font-weight="normal" text-anchor="start" textLength="51.9" lengthAdjust="spacingAndGlyphs"  stroke="#22ab94" stroke-width="0.3">3,878.30</text>
<text x="385" y="52.1" font-family="Liberation Sans, sans-serif" font-size="13.6" fill="#d0d0d0" font-weight="normal" text-anchor="start" textLength="5.5" lengthAdjust="spacingAndGlyphs"  stroke="#d0d0d0" stroke-width="0.3">L</text>
<text x="391.9" y="52.1" font-family="Liberation Sans, sans-serif" font-size="13.6" fill="#22ab94" font-weight="normal" text-anchor="start" textLength="50.8" lengthAdjust="spacingAndGlyphs"  stroke="#22ab94" stroke-width="0.3">3,726.16</text>
<text x="451.7" y="52.1" font-family="Liberation Sans, sans-serif" font-size="13.6" fill="#d0d0d0" font-weight="normal" text-anchor="start" textLength="6.9" lengthAdjust="spacingAndGlyphs"  stroke="#d0d0d0" stroke-width="0.3">C</text>
<text x="460.5" y="52.1" font-family="Liberation Sans, sans-serif" font-size="13.6" fill="#22ab94" font-weight="normal" text-anchor="start" textLength="50.8" lengthAdjust="spacingAndGlyphs"  stroke="#22ab94" stroke-width="0.3">3,834.26</text>
<text x="520.9" y="52.1" font-family="Liberation Sans, sans-serif" font-size="13.6" fill="#22ab94" font-weight="normal" text-anchor="start" textLength="87.3" lengthAdjust="spacingAndGlyphs"  stroke="#22ab94" stroke-width="0.3">+4.54 (+0.12%)</text>
<text x="20.5" y="70.8" font-family="Liberation Sans, sans-serif" font-size="13.6" fill="#d0d0d0" font-weight="normal" text-anchor="start" textLength="16.5" lengthAdjust="spacingAndGlyphs"  stroke="#d0d0d0" stroke-width="0.3">Vol</text>
<text x="51.4" y="70.8" font-family="Liberation Sans, sans-serif" font-size="13.6" fill="#d0d0d0" font-weight="normal" text-anchor="start" textLength="23.6" lengthAdjust="spacingAndGlyphs"  stroke="#d0d0d0" stroke-width="0.3">ETH</text>
<text x="83.8" y="70.8" font-family="Liberation Sans, sans-serif" font-size="13.6" fill="#26a69a" font-weight="normal" text-anchor="start" textLength="38.5" lengthAdjust="spacingAndGlyphs"  stroke="#26a69a" stroke-width="0.3">460.59</text>
<text x="126.6" y="70.8" font-family="Liberation Sans, sans-serif" font-size="13.6" fill="#26a69a" font-weight="normal" text-anchor="start" textLength="7.6" lengthAdjust="spacingAndGlyphs"  stroke="#26a69a" stroke-width="0.3">K</text>
<text x="20.5" y="490.8" font-family="Liberation Sans, sans-serif" font-size="13.6" fill="#d0d0d0" font-weight="normal" text-anchor="start" textLength="16.5" lengthAdjust="spacingAndGlyphs"  stroke="#d0d0d0" stroke-width="0.3">RSI</text>
<text x="43" y="490.8" font-family="Liberation Sans, sans-serif" font-size="13.6" fill="#d0d0d0" font-weight="normal" text-anchor="start" textLength="22" lengthAdjust="spacingAndGlyphs"  stroke="#d0d0d0" stroke-width="0.3">(14,</text>
<text x="70.5" y="490.8" font-family="Liberation Sans, sans-serif" font-size="13.6" fill="#d0d0d0" font-weight="normal" text-anchor="start" textLength="34.9" lengthAdjust="spacingAndGlyphs"  stroke="#d0d0d0" stroke-width="0.3">close)</text>
<text x="114.7" y="490.8" font-family="Liberation Sans, sans-serif" font-size="13.6" fill="#8a63d2" font-weight="normal" text-anchor="start" textLength="32.5" lengthAdjust="spacingAndGlyphs"  stroke="#8a63d2" stroke-width="0.3">35.79</text>
<text x="1346" y="88.2" font-family="Liberation Sans, sans-serif" font-size="14" fill="#bebebe" font-weight="normal" text-anchor="start" textLength="52.8" lengthAdjust="spacingAndGlyphs"  stroke="#bebebe" stroke-width="0.3">4,750.00</text>
<text x="1346" y="127.1" font-family="Liberation Sans, sans-serif" font-size="14" fill="#bebebe" font-weight="normal" text-anchor="start" textLength="52.8" lengthAdjust="spacingAndGlyphs"  stroke="#bebebe" stroke-width="0.3">4,500.00</text>
<text x="1346" y="166.0" font-family="Liberation Sans, sans-serif" font-size="14" fill="#bebebe" font-weight="normal" text-anchor="start" textLength="52.8" lengthAdjust="spacingAndGlyphs"  stroke="#bebebe" stroke-width="0.3">4,250.00</text>
<text x="1346" y="204.9" font-family="Liberation Sans, sans-serif" font-size="14" fill="#bebebe" font-weight="normal" text-anchor="start" textLength="52.8" lengthAdjust="spacingAndGlyphs"  stroke="#bebebe" stroke-width="0.3">4,000.00</text>
<text x="1346" y="282.6" font-family="Liberation Sans, sans-serif" font-size="14" fill="#bebebe" font-weight="normal" text-anchor="start" textLength="52.8" lengthAdjust="spacingAndGlyphs"  stroke="#bebebe" stroke-width="0.3">3,500.00</text>
<text x="1346" y="321.5" font-family="Liberation Sans, sans-serif" font-size="14" fill="#bebebe" font-weight="normal" text-anchor="start" textLength="52.8" lengthAdjust="spacingAndGlyphs"  stroke="#bebebe" stroke-width="0.3">3,250.00</text>
<text x="1346" y="360.4" font-family="Liberation Sans, sans-serif" font-size="14" fill="#bebebe" font-weight="normal" text-anchor="start" textLength="52.8" lengthAdjust="spacingAndGlyphs"  stroke="#bebebe" stroke-width="0.3">3,000.00</text>
<text x="1346" y="399.3" font-family="Liberation Sans, sans-serif" font-size="14" fill="#bebebe" font-weight="normal" text-anchor="start" textLength="52.8" lengthAdjust="spacingAndGlyphs"  stroke="#bebebe" stroke-width="0.3">2,750.00</text>
<text x="1346" y="438.2" font-family="Liberation Sans, sans-serif" font-size="14" fill="#bebebe" font-weight="normal" text-anchor="start" textLength="52.8" lengthAdjust="spacingAndGlyphs"  stroke="#bebebe" stroke-width="0.3">2,500.00</text>
<text x="1346.3" y="503.2" font-family="Liberation Sans, sans-serif" font-size="14" fill="#bebebe" font-weight="normal" text-anchor="start" textLength="33.2" lengthAdjust="spacingAndGlyphs"  stroke="#bebebe" stroke-width="0.3">80.00</text>
<text x="1346.3" y="567.1" font-family="Liberation Sans, sans-serif" font-size="14" fill="#bebebe" font-weight="normal" text-anchor="start" textLength="33.2" lengthAdjust="spacingAndGlyphs"  stroke="#bebebe" stroke-width="0.3">60.00</text>
<text x="1346.3" y="631.4" font-family="Liberation Sans, sans-serif" font-size="14" fill="#bebebe" font-weight="normal" text-anchor="start" textLength="33.2" lengthAdjust="spacingAndGlyphs"  stroke="#bebebe" stroke-width="0.3">40.00</text>
<text x="1346.3" y="695.1" font-family="Liberation Sans, sans-serif" font-size="14" fill="#bebebe" font-weight="normal" text-anchor="start" textLength="33.2" lengthAdjust="spacingAndGlyphs"  stroke="#bebebe" stroke-width="0.3">20.00</text>
<rect x="1340.5" y="34.5" width="65" height="29" rx="4.5" fill="none" stroke="#474747" stroke-width="1.1"/>
<text x="1351.1" y="53.9" font-family="Liberation Sans, sans-serif" font-size="14" fill="#e8e8e8" font-weight="normal" text-anchor="start" textLength="31.7" lengthAdjust="spacingAndGlyphs"  stroke="#e8e8e8" stroke-width="0.3">USDT</text>
<path d="M1337,218 H1402.2 a2,2 0 0 1 2,2 V251 a2,2 0 0 1 -2,2 H1337 Z" fill="#089981"/>
<text x="1346.9" y="231" font-family="Liberation Sans, sans-serif" font-size="14" fill="#ffffff" font-weight="normal" text-anchor="start" textLength="52.5" lengthAdjust="spacingAndGlyphs"  stroke="#ffffff" stroke-width="0.3">3,834.26</text>
<text x="1347.9" y="246.7" font-family="Liberation Sans, sans-serif" font-size="14" fill="#cfeae5" font-weight="normal" text-anchor="start" textLength="51.5" lengthAdjust="spacingAndGlyphs"  stroke="#cfeae5" stroke-width="0.3">14:37:56</text>
<path d="M1337,435 H1400.4 a2,2 0 0 1 2,2 V452 a2,2 0 0 1 -2,2 H1337 Z" fill="#26a69a"/>
<text x="1346.9" y="450" font-family="Liberation Sans, sans-serif" font-size="14" fill="#ffffff" font-weight="normal" text-anchor="start" textLength="38.5" lengthAdjust="spacingAndGlyphs"  stroke="#ffffff" stroke-width="0.3">460.59</text>
<text x="1389.7" y="450" font-family="Liberation Sans, sans-serif" font-size="14" fill="#ffffff" font-weight="normal" text-anchor="start" textLength="7.6" lengthAdjust="spacingAndGlyphs"  stroke="#ffffff" stroke-width="0.3">K</text>
<path d="M1337,631 H1383.8 a2,2 0 0 1 2,2 V648 a2,2 0 0 1 -2,2 H1337 Z" fill="#7e57c2"/>
<text x="1346.9" y="646" font-family="Liberation Sans, sans-serif" font-size="14" fill="#ffffff" font-weight="normal" text-anchor="start" textLength="33.2" lengthAdjust="spacingAndGlyphs"  stroke="#ffffff" stroke-width="0.3">35.79</text>
<text x="7.6" y="749.8" font-family="Liberation Sans, sans-serif" font-size="14" fill="#bebebe" font-weight="normal" text-anchor="start" textLength="22.6" lengthAdjust="spacingAndGlyphs"  stroke="#bebebe" stroke-width="0.3">Mar</text>
<text x="133.7" y="749.8" font-family="Liberation Sans, sans-serif" font-size="14" fill="#bebebe" font-weight="normal" text-anchor="start" textLength="20.7" lengthAdjust="spacingAndGlyphs"  stroke="#bebebe" stroke-width="0.3">Apr</text>
<text x="253.3" y="749.8" font-family="Liberation Sans, sans-serif" font-size="14" fill="#bebebe" font-weight="normal" text-anchor="start" textLength="24" lengthAdjust="spacingAndGlyphs"  stroke="#bebebe" stroke-width="0.3">May</text>
<text x="379.8" y="749.8" font-family="Liberation Sans, sans-serif" font-size="14" fill="#bebebe" font-weight="normal" text-anchor="start" textLength="21.6" lengthAdjust="spacingAndGlyphs"  stroke="#bebebe" stroke-width="0.3">Jun</text>
<text x="502.8" y="749.8" font-family="Liberation Sans, sans-serif" font-size="14" fill="#bebebe" font-weight="normal" text-anchor="start" textLength="17" lengthAdjust="spacingAndGlyphs"  stroke="#bebebe" stroke-width="0.3">Jul</text>
<text x="625.5" y="749.8" font-family="Liberation Sans, sans-serif" font-size="14" fill="#bebebe" font-weight="normal" text-anchor="start" textLength="22.5" lengthAdjust="spacingAndGlyphs"  stroke="#bebebe" stroke-width="0.3">Aug</text>
<text x="751.4" y="749.8" font-family="Liberation Sans, sans-serif" font-size="14" fill="#bebebe" font-weight="normal" text-anchor="start" textLength="21.3" lengthAdjust="spacingAndGlyphs"  stroke="#bebebe" stroke-width="0.3">Sep</text>
<text x="872.2" y="749.8" font-family="Liberation Sans, sans-serif" font-size="14" fill="#bebebe" font-weight="normal" text-anchor="start" textLength="20.7" lengthAdjust="spacingAndGlyphs"  stroke="#bebebe" stroke-width="0.3">Oct</text>
<text x="996.9" y="749.8" font-family="Liberation Sans, sans-serif" font-size="14" fill="#bebebe" font-weight="normal" text-anchor="start" textLength="22.8" lengthAdjust="spacingAndGlyphs"  stroke="#bebebe" stroke-width="0.3">Nov</text>
<text x="1118.7" y="749.8" font-family="Liberation Sans, sans-serif" font-size="14" fill="#bebebe" font-weight="normal" text-anchor="start" textLength="21.6" lengthAdjust="spacingAndGlyphs"  stroke="#bebebe" stroke-width="0.3">Dec</text>
<text x="1239.3" y="749.8" font-family="Liberation Sans, sans-serif" font-size="14" fill="#d6d6d6" font-weight="bold" text-anchor="start" textLength="31" lengthAdjust="spacingAndGlyphs" >2026</text>
<rect x="0" y="735" width="10" height="25" fill="#1e1e1e"/><rect x="10" y="735" width="2" height="25" fill="#2e2e2e"/>
<g fill="#dbdbdb">
<path d="M13,786 H27 V802.8 H20 V793 H13 Z"/>
<circle cx="31.5" cy="789.2" r="2.6"/>
<path d="M36.9,786 H46.5 L39.9,802.8 H32.2 Z"/>
</g>
<text x="55" y="802.8" font-family="Liberation Sans, sans-serif" font-size="23" fill="#dbdbdb" font-weight="bold" text-anchor="start" textLength="135.6" lengthAdjust="spacingAndGlyphs" >TradingView</text>
</svg>
</body></html>
